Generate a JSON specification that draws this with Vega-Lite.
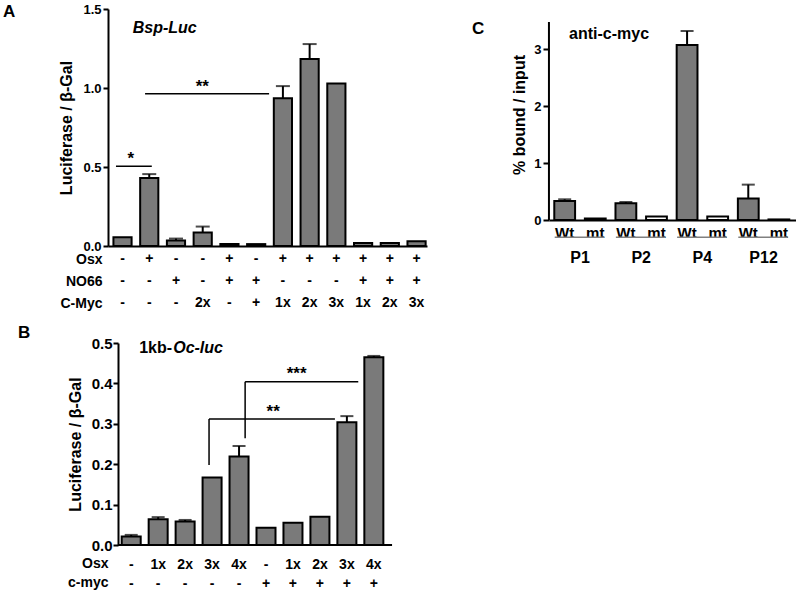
{
  "$schema": "https://vega.github.io/schema/vega-lite/v6.json",
  "padding": {"left": 3, "top": 3, "right": 0, "bottom": 0},
  "columns": 2,
  "align": "each",
  "spacing": {"row": 14, "column": 45},
  "config": {
    "view": {"stroke": null},
    "font": "Liberation Sans",
    "axis": {"grid": false, "domainColor": "black", "domainWidth": 2, "tickColor": "black", "tickWidth": 2, "labelColor": "black", "labelFontWeight": "bold", "titleColor": "black", "titleFontWeight": "bold", "labelFont": "Liberation Sans", "titleFont": "Liberation Sans"},
    "text": {"font": "Liberation Sans", "fontWeight": "bold", "color": "black"},
    "title": {"font": "Liberation Sans", "fontWeight": "bold", "color": "black", "fontSize": 17}
  },
  "datasets": {
    "panelA": [
      {"c": "-|-|-", "v": 0.056, "e": null},
      {"c": "+|-|-", "v": 0.43, "e": 0.455},
      {"c": "-|+|-", "v": 0.035, "e": 0.047},
      {"c": "-|-|2x", "v": 0.086, "e": 0.123},
      {"c": "+|+|-", "v": 0.012, "e": null},
      {"c": "-|+|+", "v": 0.012, "e": null},
      {"c": "+|-|1x", "v": 0.935, "e": 1.012},
      {"c": "+|-|2x", "v": 1.184, "e": 1.278},
      {"c": "+|-|3x", "v": 1.028, "e": null},
      {"c": "+|+|1x", "v": 0.019, "e": null},
      {"c": "+|+|2x", "v": 0.019, "e": null},
      {"c": "+|+|3x", "v": 0.03, "e": null}
    ],
    "panelB": [
      {"c": "-|-", "v": 0.021, "e": 0.025},
      {"c": "1x|-", "v": 0.064, "e": 0.069},
      {"c": "2x|-", "v": 0.058, "e": 0.062},
      {"c": "3x|-", "v": 0.167, "e": null},
      {"c": "4x|-", "v": 0.219, "e": 0.245},
      {"c": "-|+", "v": 0.043, "e": null},
      {"c": "1x|+", "v": 0.055, "e": null},
      {"c": "2x|+", "v": 0.07, "e": null},
      {"c": "3x|+", "v": 0.304, "e": 0.319},
      {"c": "4x|+", "v": 0.465, "e": 0.468}
    ],
    "panelC": [
      {"c": "Wt|P1", "k": "Wt", "v": 0.334, "e": 0.364},
      {"c": "mt|P1", "k": "mt", "v": 0.025, "e": null},
      {"c": "Wt|P2", "k": "Wt", "v": 0.294, "e": 0.317},
      {"c": "mt|P2", "k": "mt", "v": 0.06, "e": null},
      {"c": "Wt|P4", "k": "Wt", "v": 3.078, "e": 3.324},
      {"c": "mt|P4", "k": "mt", "v": 0.06, "e": null},
      {"c": "Wt|P12", "k": "Wt", "v": 0.38, "e": 0.622},
      {"c": "mt|P12", "k": "mt", "v": 0.01, "e": null}
    ]
  },
  "concat": [
    {
      "width": 319,
      "height": 237,
      "title": {"text": "A", "anchor": "start", "frame": "group", "orient": "top", "baseline": "top", "offset": 0, "dx": -105, "dy": 18},
      "layer": [
        {
          "data": {"name": "panelA"},
          "mark": {"type": "bar", "fill": "#7a7a7a", "stroke": "black", "strokeWidth": 2},
          "encoding": {
            "x": {"field": "c", "type": "nominal",
              "scale": {"domain": ["-|-|-", "+|-|-", "-|+|-", "-|-|2x", "+|+|-", "-|+|+", "+|-|1x", "+|-|2x", "+|-|3x", "+|+|1x", "+|+|2x", "+|+|3x"], "paddingInner": 0.32, "paddingOuter": 0.127, "align": 0.8, "round": false},
              "axis": {"title": ["Osx", "NO66", "C-Myc"], "titleAlign": "right", "titleX": -6, "titleY": 6, "titleBaseline": "top", "titleLineHeight": 22, "titleFontSize": 14, "labelExpr": "split(datum.value, '|')", "labelFontSize": 14, "labelLineHeight": 22, "labelPadding": 5.3, "labelBaseline": "top", "labelAngle": 0, "ticks": false, "labelOverlap": false, "labelBound": false, "labelFlush": false}},
            "y": {"field": "v", "type": "quantitative", "scale": {"domain": [0, 1.5], "nice": false},
              "axis": {"values": [0, 0.5, 1, 1.5], "format": ".1f", "title": "Luciferase / β-Gal", "titleFontSize": 16, "titlePadding": 8, "labelFontSize": 13, "tickSize": 5, "labelPadding": 2}}
          }
        },
        {
          "data": {"name": "panelA"},
          "transform": [{"filter": "isValid(datum.e)"}],
          "mark": {"type": "rule", "color": "black", "strokeWidth": 2},
          "encoding": {"x": {"field": "c", "type": "nominal"}, "y": {"field": "v", "type": "quantitative"}, "y2": {"field": "e"}}
        },
        {
          "data": {"name": "panelA"},
          "transform": [{"filter": "isValid(datum.e)"}],
          "mark": {"type": "tick", "color": "black", "size": 14, "thickness": 2},
          "encoding": {"x": {"field": "c", "type": "nominal"}, "y": {"field": "e", "type": "quantitative"}}
        },
        {
          "data": {"values": [{"c": "-|-|-", "c2": "+|-|-", "y": 0.504}]},
          "mark": {"type": "rule", "color": "black", "strokeWidth": 1.5},
          "encoding": {"x": {"field": "c", "type": "nominal", "bandPosition": 0.14}, "x2": {"field": "c2", "bandPosition": 0.64}, "y": {"field": "y", "type": "quantitative"}}
        },
        {
          "data": {"values": [{"c": "+|-|-", "c2": "+|-|1x", "y": 0.964}]},
          "mark": {"type": "rule", "color": "black", "strokeWidth": 1.5},
          "encoding": {"x": {"field": "c", "type": "nominal", "bandPosition": 0.27}, "x2": {"field": "c2", "bandPosition": -0.26}, "y": {"field": "y", "type": "quantitative"}}
        },
        {
          "data": {"values": [{"c": "-|-|-", "t": "*", "y": 0.52}]},
          "mark": {"type": "text", "fontSize": 17, "baseline": "alphabetic", "align": "center"},
          "encoding": {"x": {"field": "c", "type": "nominal", "bandPosition": 0.95}, "y": {"field": "y", "type": "quantitative"}, "text": {"field": "t"}}
        },
        {
          "data": {"values": [{"c": "-|-|2x", "t": "**", "y": 0.975}]},
          "mark": {"type": "text", "fontSize": 17, "baseline": "alphabetic", "align": "center"},
          "encoding": {"x": {"field": "c", "type": "nominal", "bandPosition": 0.48}, "y": {"field": "y", "type": "quantitative"}, "text": {"field": "t"}}
        },
        {
          "data": {"values": [{"c": "+|-|-", "t": "Bsp-Luc", "y": 1.35}]},
          "mark": {"type": "text", "fontSize": 16, "fontStyle": "italic", "baseline": "alphabetic", "align": "left"},
          "encoding": {"x": {"field": "c", "type": "nominal", "bandPosition": -0.41}, "y": {"field": "y", "type": "quantitative"}, "text": {"field": "t"}}
        }
      ]
    },
    {
      "width": 247,
      "height": 211,
      "title": {"text": "C", "anchor": "start", "frame": "group", "orient": "top", "baseline": "top", "offset": 0, "dx": -77, "dy": 29},
      "layer": [
        {
          "data": {"name": "panelC"},
          "mark": {"type": "bar", "stroke": "black", "strokeWidth": 2},
          "encoding": {
            "x": {"field": "c", "type": "nominal",
              "scale": {"domain": ["Wt|P1", "mt|P1", "Wt|P2", "mt|P2", "Wt|P4", "mt|P4", "Wt|P12", "mt|P12"], "paddingInner": 0.32, "paddingOuter": 0.196, "align": 0.44, "round": false},
              "axis": {"title": null, "labelExpr": "split(datum.value, '|')[0]", "labelFontSize": 15, "labelPadding": 5, "labelBaseline": "top", "labelAngle": 0, "ticks": false, "labelOverlap": false, "labelBound": false, "labelFlush": false}},
            "y": {"field": "v", "type": "quantitative", "scale": {"domain": [0, 3.711], "nice": false},
              "axis": {"values": [0, 1, 2, 3], "format": "d", "domain": false, "title": "% bound / input", "titleFontSize": 16, "titlePadding": 6, "labelFontSize": 13, "tickSize": 6, "labelPadding": 2}},
            "fill": {"field": "k", "type": "nominal", "scale": {"domain": ["Wt", "mt"], "range": ["#7a7a7a", "#ffffff"]}, "legend": null}
          }
        },
        {
          "data": {"name": "panelC"},
          "transform": [{"filter": "isValid(datum.e)"}],
          "mark": {"type": "rule", "color": "black", "strokeWidth": 2},
          "encoding": {"x": {"field": "c", "type": "nominal"}, "y": {"field": "v", "type": "quantitative"}, "y2": {"field": "e"}}
        },
        {
          "data": {"name": "panelC"},
          "transform": [{"filter": "isValid(datum.e)"}],
          "mark": {"type": "tick", "color": "black", "size": 13, "thickness": 2},
          "encoding": {"x": {"field": "c", "type": "nominal"}, "y": {"field": "e", "type": "quantitative"}}
        },
        {
          "data": {"values": [{"c": "Wt|P1", "y": 0, "y2": 3.482}]},
          "mark": {"type": "rule", "color": "black", "strokeWidth": 2},
          "encoding": {"x": {"field": "c", "type": "nominal", "bandPosition": -0.256}, "y": {"field": "y", "type": "quantitative"}, "y2": {"field": "y2"}}
        },
        {
          "data": {"values": [{"c": "Wt|P1", "c2": "mt|P1"}, {"c": "Wt|P2", "c2": "mt|P2"}, {"c": "Wt|P4", "c2": "mt|P4"}, {"c": "Wt|P12", "c2": "mt|P12"}]},
          "mark": {"type": "rule", "color": "#808080", "strokeWidth": 1.5},
          "encoding": {"x": {"field": "c", "type": "nominal", "bandPosition": 0.02}, "x2": {"field": "c2", "bandPosition": 0.92}, "y": {"datum": -0.304, "type": "quantitative"}}
        },
        {
          "data": {"values": [{"c": "Wt|P1", "t": "P1"}, {"c": "Wt|P2", "t": "P2"}, {"c": "Wt|P4", "t": "P4"}, {"c": "Wt|P12", "t": "P12"}]},
          "mark": {"type": "text", "fontSize": 16, "baseline": "middle", "align": "center"},
          "encoding": {"x": {"field": "c", "type": "nominal", "bandPosition": 1.236}, "y": {"datum": -0.661, "type": "quantitative"}, "text": {"field": "t"}}
        },
        {
          "data": {"values": [{"c": "Wt|P1", "t": "anti-c-myc", "y": 3.19}]},
          "mark": {"type": "text", "fontSize": 16, "baseline": "alphabetic", "align": "left"},
          "encoding": {"x": {"field": "c", "type": "nominal", "bandPosition": 0.71}, "y": {"field": "y", "type": "quantitative"}, "text": {"field": "t"}}
        }
      ]
    },
    {
      "width": 284,
      "height": 202,
      "title": {"text": "B", "anchor": "start", "frame": "group", "orient": "top", "baseline": "top", "offset": 0, "dx": -90, "dy": 6},
      "layer": [
        {
          "data": {"name": "panelB"},
          "mark": {"type": "bar", "fill": "#7a7a7a", "stroke": "black", "strokeWidth": 2},
          "encoding": {
            "x": {"field": "c", "type": "nominal",
              "scale": {"domain": ["-|-", "1x|-", "2x|-", "3x|-", "4x|-", "-|+", "1x|+", "2x|+", "3x|+", "4x|+"], "paddingInner": 0.295, "paddingOuter": 0.4145, "align": 0.613, "round": false},
              "axis": {"title": ["Osx", "c-myc"], "titleAlign": "right", "titleX": 0, "titleY": 11, "titleBaseline": "top", "titleLineHeight": 19.5, "titleFontSize": 14, "labelExpr": "split(datum.value, '|')", "labelFontSize": 14, "labelLineHeight": 19.5, "labelPadding": 12, "labelBaseline": "top", "labelAngle": 0, "ticks": false, "domain": false, "labelOverlap": false, "labelBound": false, "labelFlush": false}},
            "y": {"field": "v", "type": "quantitative", "scale": {"domain": [0, 0.5], "nice": false},
              "axis": {"values": [0, 0.1, 0.2, 0.3, 0.4, 0.5], "format": ".1f", "offset": -10, "title": "Luciferase / β-Gal", "titleFontSize": 16, "titlePadding": 8, "labelFontSize": 15, "tickSize": 5, "labelPadding": 1}}
          }
        },
        {
          "data": {"name": "panelB"},
          "transform": [{"filter": "isValid(datum.e)"}],
          "mark": {"type": "rule", "color": "black", "strokeWidth": 2},
          "encoding": {"x": {"field": "c", "type": "nominal"}, "y": {"field": "v", "type": "quantitative"}, "y2": {"field": "e"}}
        },
        {
          "data": {"name": "panelB"},
          "transform": [{"filter": "isValid(datum.e)"}],
          "mark": {"type": "tick", "color": "black", "size": 13, "thickness": 2},
          "encoding": {"x": {"field": "c", "type": "nominal"}, "y": {"field": "e", "type": "quantitative"}}
        },
        {
          "data": {"values": [{"c": "-|-", "c2": "4x|+", "y": 0}]},
          "mark": {"type": "rule", "color": "black", "strokeWidth": 2},
          "encoding": {"x": {"field": "c", "type": "nominal", "bandPosition": -0.195}, "x2": {"field": "c2", "bandPosition": 1.458}, "y": {"field": "y", "type": "quantitative"}}
        },
        {
          "data": {"values": [{"c": "3x|-", "y": 0.198, "y2": 0.312}]},
          "mark": {"type": "rule", "color": "black", "strokeWidth": 1.5},
          "encoding": {"x": {"field": "c", "type": "nominal", "bandPosition": 0.34}, "y": {"field": "y", "type": "quantitative"}, "y2": {"field": "y2"}}
        },
        {
          "data": {"values": [{"c": "3x|-", "c2": "3x|+", "y": 0.312}]},
          "mark": {"type": "rule", "color": "black", "strokeWidth": 1.5},
          "encoding": {"x": {"field": "c", "type": "nominal", "bandPosition": 0.34}, "x2": {"field": "c2", "bandPosition": -0.13}, "y": {"field": "y", "type": "quantitative"}}
        },
        {
          "data": {"values": [{"c": "4x|-", "y": 0.264, "y2": 0.404}]},
          "mark": {"type": "rule", "color": "black", "strokeWidth": 1.5},
          "encoding": {"x": {"field": "c", "type": "nominal", "bandPosition": 0.82}, "y": {"field": "y", "type": "quantitative"}, "y2": {"field": "y2"}}
        },
        {
          "data": {"values": [{"c": "4x|-", "c2": "4x|+", "y": 0.404}]},
          "mark": {"type": "rule", "color": "black", "strokeWidth": 1.5},
          "encoding": {"x": {"field": "c", "type": "nominal", "bandPosition": 0.82}, "x2": {"field": "c2", "bandPosition": -0.32}, "y": {"field": "y", "type": "quantitative"}}
        },
        {
          "data": {"values": [{"c": "-|+", "t": "**", "y": 0.318}]},
          "mark": {"type": "text", "fontSize": 17, "baseline": "alphabetic", "align": "center"},
          "encoding": {"x": {"field": "c", "type": "nominal", "bandPosition": 0.88}, "y": {"field": "y", "type": "quantitative"}, "text": {"field": "t"}}
        },
        {
          "data": {"values": [{"c": "1x|+", "t": "***", "y": 0.41}]},
          "mark": {"type": "text", "fontSize": 17, "baseline": "alphabetic", "align": "center"},
          "encoding": {"x": {"field": "c", "type": "nominal", "bandPosition": 0.69}, "y": {"field": "y", "type": "quantitative"}, "text": {"field": "t"}}
        },
        {
          "data": {"values": [{"c": "-|-", "t": "1kb-", "y": 0.4745}]},
          "mark": {"type": "text", "fontSize": 16, "baseline": "alphabetic", "align": "left"},
          "encoding": {"x": {"field": "c", "type": "nominal", "bandPosition": 0.92}, "y": {"field": "y", "type": "quantitative"}, "text": {"field": "t"}}
        },
        {
          "data": {"values": [{"c": "1x|-", "t": "Oc-luc", "y": 0.4745}]},
          "mark": {"type": "text", "fontSize": 16, "fontStyle": "italic", "baseline": "alphabetic", "align": "left"},
          "encoding": {"x": {"field": "c", "type": "nominal", "bandPosition": 1.29}, "y": {"field": "y", "type": "quantitative"}, "text": {"field": "t"}}
        }
      ]
    }
  ]
}
